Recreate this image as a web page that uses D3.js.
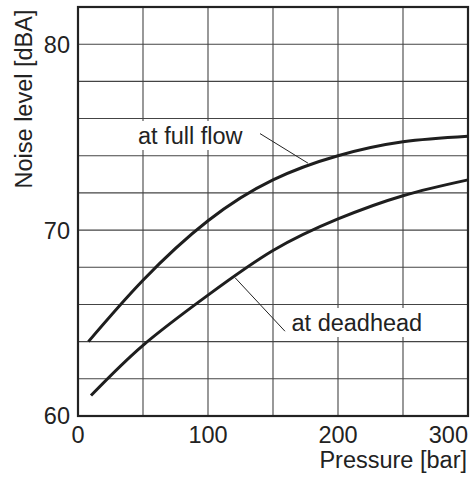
<!DOCTYPE html>
<html><head><meta charset="utf-8">
<script src="https://cdn.jsdelivr.net/npm/d3@7/dist/d3.min.js"></script>
<style>body{margin:0;background:#fff}svg{display:block}text{font-family:"Liberation Sans",Arial,sans-serif;fill:#222}</style>
</head><body><svg id="c" width="475" height="478"></svg>
<script>
const fullFlowP = [8, 50, 100, 150, 200, 250, 300];
const fullFlowDb = [64.0, 67.3, 70.5, 72.7, 74.0, 74.75, 75.05];
const deadheadP = [10, 50, 100, 150, 200, 250, 300];
const deadheadDb = [61.1, 63.8, 66.5, 68.9, 70.6, 71.85, 72.7];
const xTicks = [0, 100, 200, 300];
const yTicks = [60, 70, 80];
const xGrid = [50, 100, 150, 200, 250];
const yGrid = [62, 64, 66, 68, 70, 72, 74, 76, 78, 80];
const labels = [
  {text: "at full flow", lx: [140, 176.9], ly: [75.19, 73.6]},
  {text: "at deadhead", lx: [120.8, 159.2], ly: [67.44, 64.56]}
];

const svg = d3.select("#c");
const x = d3.scaleLinear().domain([0, 300]).range([78, 468]);
const y = d3.scaleLinear().domain([60, 82]).range([416, 7]);
const fs = 23.5;

// grid
svg.append("g").selectAll("line").data(xGrid).join("line")
  .attr("x1", d => x(d)).attr("x2", d => x(d)).attr("y1", y(60)).attr("y2", y(82))
  .attr("stroke", "#444").attr("stroke-width", 1.1);
svg.append("g").selectAll("line").data(yGrid).join("line")
  .attr("y1", d => y(d)).attr("y2", d => y(d)).attr("x1", x(0)).attr("x2", x(300))
  .attr("stroke", "#444").attr("stroke-width", 1.1);

// label backgrounds + texts
const fullT = svg.append("text").attr("x", 138).attr("y", 144).attr("font-size", fs).text(labels[0].text);
const deadT = svg.append("text").attr("x", 291.5).attr("y", 331).attr("font-size", fs).text(labels[1].text);
[fullT, deadT].forEach(t => {
  const b = t.node().getBBox();
  svg.insert("rect", "text").attr("x", b.x - 3).attr("y", b.y - 2).attr("width", b.width + 6).attr("height", b.height + 3).attr("fill", "#fff");
});

// frame
svg.append("rect").attr("x", x(0)).attr("y", y(82)).attr("width", x(300) - x(0)).attr("height", y(60) - y(82))
  .attr("fill", "none").attr("stroke", "#222").attr("stroke-width", 2.2);

// leader lines
labels.forEach(l => {
  svg.append("line").attr("x1", x(l.lx[0])).attr("y1", y(l.ly[0])).attr("x2", x(l.lx[1])).attr("y2", y(l.ly[1]))
    .attr("stroke", "#222").attr("stroke-width", 1);
});

// curves
const line = d3.line().x(d => x(d[0])).y(d => y(d[1])).curve(d3.curveNatural);
[[fullFlowP, fullFlowDb], [deadheadP, deadheadDb]].forEach(([ps, ds]) => {
  svg.append("path").datum(ps.map((p, i) => [p, ds[i]])).attr("d", line)
    .attr("fill", "none").attr("stroke", "#1e1e1e").attr("stroke-width", 3);
});

// tick labels
svg.append("g").selectAll("text").data(xTicks).join("text")
  .attr("x", (d, i) => i === xTicks.length - 1 ? 468 : x(d)).attr("y", 443)
  .attr("text-anchor", (d, i) => i === xTicks.length - 1 ? "end" : "middle").attr("font-size", fs).text(d => d);
svg.append("g").selectAll("text").data(yTicks).join("text")
  .attr("x", 70).attr("y", d => y(d)).attr("dy", "0.36em").attr("text-anchor", "end").attr("font-size", fs).text(d => d);

// axis titles
svg.append("text").attr("x", 467).attr("y", 468).attr("text-anchor", "end").attr("font-size", fs).text("Pressure [bar]");
svg.append("text").attr("transform", "translate(32,99) rotate(-90)").attr("text-anchor", "middle").attr("font-size", fs).text("Noise level [dBA]");
</script></body></html>
